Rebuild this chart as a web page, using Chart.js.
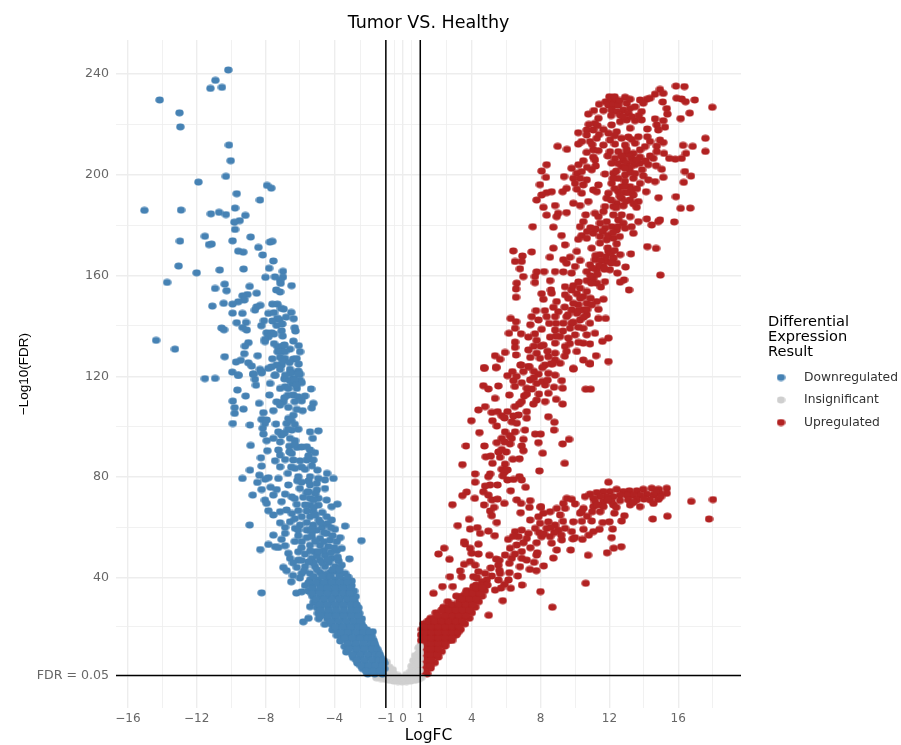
<!DOCTYPE html>
<html>
<head>
<meta charset="utf-8">
<style>
body { margin: 0; background: #fff; }
canvas { display: block; }
</style>
<script src="https://cdn.jsdelivr.net/npm/chart.js@4"></script>
</head>
<body>
<canvas id="volcano" width="901" height="745"></canvas>
<script>
const seriesNames = ['Downregulated', 'Insignificant', 'Upregulated'];
const seriesColors = ['#4682b4', '#cfcfcf', '#b22222'];

const xMajor = [-16, -12, -8, -4, -1, 0, 1, 4, 8, 12, 16];
const xMinor = [-14, -10, -6, -2.5, -0.5, 0.5, 2.5, 6, 10, 14, 18];
const yMajor = [1.3, 40, 80, 120, 160, 200, 240];
const yMinor = [20.6, 60, 100, 140, 180, 220];

const logFcCutoff = 1;
const fdrCutoff = 1.3;

// [logFC, -log10(FDR)]
const downregulated = [
  [-10.16,241.6],[-10.91,237.5],[-11.2,234.3],[-10.53,234.7],[-14.15,229.7],[-13,224.6],[-12.95,219],[-10.12,211.8],[-10.02,205.6],[-10.3,199.4],
  [-11.9,197.1],[-7.91,195.8],[-7.66,194.7],[-9.67,192.5],[-8.32,190],[-9.77,186.8],[-15.04,185.9],[-12.91,186],[-11.17,184.5],[-10.7,185.1],
  [-10.3,184.2],[-9.17,183.9],[-9.5,181.8],[-9.81,181.2],[-9.77,178.3],[-8.86,175.3],[-11.52,175.6],[-9.91,173.8],[-12.97,173.7],[-7.74,173.3],
  [-7.6,173.6],[-11.13,172.5],[-11.28,172.3],[-8.41,171.2],[-9.58,169.7],[-9.29,169.3],[-8.16,168.2],[-7.54,165.8],[-13.05,163.8],[-7.79,162.9],
  [-9.27,162.6],[-10.66,162.2],[-12,161.1],[-6.98,161.7],[-13.72,157.3],[-8,159.3],[-7.45,159.5],[-6.98,159.4],[-7.15,158.2],[-7.12,156.9],
  [-10.37,156.6],[-10.93,154.9],[-8.92,155.7],[-6.48,156],[-10.26,154],[-7.37,154.3],[-7.15,153.5],[-8.51,153],[-9.05,152.5],[-9.33,152],
  [-9.23,150.3],[-9.58,149.6],[-9.91,148.7],[-10.43,149],[-11.09,147.9],[-8.3,148.2],[-8.51,147.6],[-8.61,146.3],[-7.6,148.7],[-7.31,148.7],
  [-6.94,146.7],[-6.5,145.4],[-9.91,145.1],[-9.34,145],[-7.83,145],[-7.5,145.3],[-6.36,142.9],[-7.19,142.6],[-8.09,142.1],[-9.67,141.3],
  [-9.13,141.4],[-8.24,140.1],[-7.35,140.2],[-7.02,140.8],[-9.33,139.4],[-9.09,138.4],[-10.55,139.2],[-10.41,138.5],[-6.3,139.3],[-6.26,138],
  [-7.06,138.1],[-7.93,137.3],[-7.64,137.3],[-7.5,136.8],[-7.83,135.7],[-8.03,134.7],[-8.03,133.8],[-14.36,134.3],[-6.38,134],[-8.99,133.4],
  [-9.19,132],[-13.26,130.8],[-6.07,132.2],[-7.29,131.8],[-7,132],[-6.57,130.8],[-5.99,129.8],[-7.29,129.8],[-7.1,129.8],[-6.86,129.8],
  [-9.23,129],[-8.45,128.2],[-10.37,127.8],[-7.15,127.5],[-6.86,127.1],[-6.38,126.9],[-6.19,127.1],[-9.44,126.4],[-9.71,125.7],[-9,125.4],
  [-8.8,124.1],[-6.07,124.9],[-7.06,124.5],[-7.35,124.5],[-7.64,123.8],[-7.83,123.2],[-8.32,122.8],[-8.22,121.9],[-7.15,122.8],[-6.57,122.8],
  [-6.09,122.1],[-6.48,121.5],[-5.99,120.9],[-9.93,121.7],[-9.58,120.4],[-8.72,120.9],[-7.45,120.4],[-8.61,118.8],[-6.38,119.2],[-5.99,118.5],
  [-10.93,119.2],[-11.52,119.1],[-8.7,120.9],[-8.22,121.4],[-7.44,120.5],[-6.57,121.4],[-6.09,120.9],[-7.15,115.2],[-6.86,115.9],[-6.47,117.2],
  [-5.89,117.5],[-5.35,115],[-6.67,115.2],[-6.18,115.2],[-6.38,112.6],[-6.09,111.9],[-5.7,112.2],[-5.89,110.3],[-7.35,109.9],[-6.96,109.9],
  [-7.15,108.6],[-6.67,107.7],[-6.18,106.9],[-5.22,109.3],[-5.31,107.5],[-7.54,106.4],[-5.84,106.4],[-8.12,105.6],[-6.38,104.6],[-6.67,103.3],
  [-8.22,102.9],[-7.93,102.7],[-8.9,100.7],[-7.39,101.1],[-6.77,101.3],[-8.03,101.3],[-6.09,99],[-6.47,98.7],[-8.16,99.4],[-7.25,98],
  [-5.41,98],[-4.92,98.4],[-8.12,97.1],[-7.06,96.7],[-5.25,95.4],[-7.93,94.5],[-6.57,95.4],[-7.15,94],[-6.28,94.5],[-7.54,95.4],
  [-5.6,92.1],[-6.61,92.3],[-6.18,91.8],[-7.25,90.8],[-7.89,90.5],[-5.41,90.8],[-5.12,89.7],[-6.47,89.4],[-8.26,87.7],[-7.15,88.8],
  [-7.44,86.5],[-6.86,87],[-6.38,86.8],[-5.99,86.5],[-5.6,86.8],[-5.22,86.8],[-8.22,84.4],[-7.15,84.1],[-6.28,83.5],[-5.7,83.1],
  [-4.98,82.8],[-4.42,81.5],[-8.35,80.8],[-7.83,79.8],[-7.25,79.5],[-6.09,80.2],[-5.41,80.2],[-4.92,79.5],[-4.54,78.9],[-8.47,77.9],
  [-8.03,79.2],[-6.67,76.9],[-6.15,78.6],[-5.41,76.9],[-5.02,77.5],[-8.22,75.1],[-7.7,76],[-7.35,75.1],[-6,75.5],[-4.54,75.5],
  [-5.5,74.2],[-5.02,74.9],[-7.54,72.9],[-6.86,73.3],[-6.47,72.2],[-8.03,70.9],[-5.41,71.6],[-4.92,71.6],[-4.44,70.9],[-7.06,70.3],
  [-7.93,69.6],[-6.18,69.2],[-5.41,68.9],[-4.92,68.9],[-4.15,68.3],[-7.83,66.7],[-6.77,67],[-6.09,66.7],[-5.22,66.3],[-7.54,65],
  [-7.15,66.3],[-6.47,65.6],[-5.41,64.3],[-4.44,64.3],[-4.15,63],[-5.89,64.3],[-7.15,61.9],[-6.57,62.3],[-5.99,61],[-5.22,61],
  [-6.86,60.1],[-6.28,59.7],[-5.6,59],[-5.02,59],[-3.96,59.3],[-4.44,57.7],[-7.54,57],[-6.86,57.7],[-6.09,56.8],[-3.66,56],
  [-5.31,56.4],[-4.83,55.7],[-7.06,55.3],[-4.25,55],[-5.89,54.4],[-3.86,54.4],[-7.83,53.3],[-7.44,52.4],[-7.25,52.1],[-6.86,52.8],
  [-5.41,53],[-4.83,53],[-4.34,52.4],[-3.57,51.7],[-3.86,50.8],[-6.09,50.4],[-5.12,50.4],[-6.67,49.8],[-5.7,49.5],[-4.54,49.1],
  [-6.57,47.8],[-6.09,47.1],[-5.31,47.8],[-4.83,47.1],[-4.15,47.8],[-3.76,46.8],[-6.96,44.2],[-6.18,44.2],[-5.7,44.5],[-5.12,44.5],
  [-4.54,44.5],[-3.96,44.5],[-3.57,45.1],[-6.77,42.9],[-5.89,41.8],[-5.41,41.8],[-4.83,42.1],[-4.25,42.1],[-3.66,41.8],[-3.37,41.8],
  [-2.99,38.8],[-6.5,38.5],[-5.41,39.2],[-4.92,39.2],[-4.44,39.2],[-3.96,39.2],[-3.47,39.2],[-2.42,54.8],[-3.12,47.6],[-3.37,60.6],
  [-4.05,79.5],[-3.82,69.3],[-8.92,61],[-8.3,51.3],[-9.34,79.5],[-8.9,82.8],[-8.74,72.9],[-8.86,92.6],[-9.9,101.3],[-9.28,107],
  [-9.63,114.6],[-9.15,112.2],[-8.37,109.3],[-7.77,112.6],[-7.73,117.2],[-8.55,116.5],[-9.9,110.2],[-9.79,107.6],[-9.79,105.3],[-9.58,120.5],
  [-8.22,34.1],[-6.2,34],[-5.9,34.5],[-5.8,22.6],[-5.5,24],[-5.4,28.6],
  [-5.2,46],[-4.7,46],[-4.3,46.2],[-3.9,42.5],[-5,48.8],[-4.6,51],[-4.2,50],[-5.1,54.6],[-4.6,54.4],[-4.1,56.8],
  [-5.3,58],[-4.7,60.2],[-4.4,61.5],[-4.9,63],[-4.7,66],[-5.6,66.6],[-5.7,69],[-5.2,71],
  [-6.9,119],[-6.6,118.5],[-6.3,118.5],[-6.2,116.5],[-6.7,112.5],[-6.3,110],[-6.9,111.5],[-6.5,102.5],[-6.3,101],[-6.9,97.5],
  [-6.7,99],[-6.3,93],[-6.6,90],[-5.9,92],[-5.5,88.5],[-5.3,84.5],[-5.9,84],[-6.5,84],[-6.7,81.5],[-5.9,78],
  [-5.5,78.5],[-5.6,74],[-6.3,71.5],[-5.8,72],[-5.1,73.5],[-5.2,68],[-5.6,62],[-6.3,63.5],[-4.8,62],[-5.1,65],
  [-6.1,59],[-6.3,54.5],[-5.6,56],[-5.4,50.8],[-5.9,52],[-5.3,59.5],[-4.6,58],[-4.2,60],[-3.8,48.3],[-4.9,50.5],
  [-4.4,47.3],[-4,52],[-6.4,46],[-5.5,46.4],[-5.9,47],[-6.4,41],[-6,40],[-5.75,42.8],[-5,43.3],[-4.5,41.5],
  [-4.1,43.3],[-3.7,43.5],[-3.2,40.4],[-5.2,40.5],[-4.7,40.7],[-4.2,40.6],[-3.7,40.5],[-7,126],[-6.6,125.5],[-6.9,132.5],
  [-7.6,127],[-7.5,133],[-7,136],[-7.3,143],[-6.8,143.5],[-7.6,142],[-7.1,147],[-6.85,120.5],
  [-5.7,37],[-5.25,36.8],[-4.8,37],[-4.35,36.8],[-3.9,37],[-3.45,36.8],[-3,37],
  [-5.5,34.8],[-5.05,34.8],[-4.6,34.8],[-4.15,34.8],[-3.7,34.8],[-3.25,34.8],[-2.85,34.8],
  [-5.25,32.6],[-4.8,32.6],[-4.35,32.6],[-3.9,32.6],[-3.45,32.6],[-3,32.6],[-2.75,32.6],
  [-5.2,30.4],[-5.05,30.4],[-4.6,30.4],[-4.15,30.4],[-3.7,30.4],[-3.25,30.4],[-2.8,30.4],
  [-5,28.2],[-4.8,28.2],[-4.35,28.2],[-3.9,28.2],[-3.45,28.2],[-3,28.2],[-2.6,28.2],
  [-4.95,26],[-4.6,26],[-4.15,26],[-3.7,26],[-3.25,26],[-2.8,26],[-2.55,26],
  [-4.9,23.8],[-4.4,23.8],[-3.95,23.8],[-3.5,23.8],[-3.05,23.8],[-2.6,23.8],[-2.4,23.8],
  [-4.55,21.6],[-4.15,21.6],[-3.7,21.6],[-3.25,21.6],[-2.8,21.6],[-2.4,21.6],
  [-4.1,19.4],[-3.85,19.4],[-3.4,19.4],[-2.95,19.4],[-2.5,19.4],[-2.1,19.4],[-1.77,18.7],
  [-3.85,17.2],[-3.55,17.2],[-3.1,17.2],[-2.65,17.2],[-2.2,17.2],[-1.85,17.2],
  [-3.65,15],[-3.25,15],[-2.8,15],[-2.35,15],[-1.9,15],[-1.7,15],
  [-3.4,12.8],[-2.95,12.8],[-2.5,12.8],[-2.05,12.8],[-1.6,12.8],
  [-3.3,10.6],[-2.75,10.6],[-2.3,10.6],[-1.85,10.6],[-1.45,10.6],
  [-2.9,8.4],[-2.45,8.4],[-2,8.4],[-1.55,8.4],[-1.3,8.4],
  [-2.65,6.2],[-2.2,6.2],[-1.75,6.2],[-1.3,6.2],[-1.1,6.2],
  [-2.35,4],[-1.95,4],[-1.5,4],[-1.1,4],
  [-2.05,1.9],[-1.65,1.9],[-1.2,1.9],
  [-5.5,38.1],[-5.05,38.1],[-4.6,38.1],[-4.15,38.1],[-3.7,38.1],[-3.25,38.1],
  [-5.3,35.9],[-4.8,35.9],[-4.4,35.9],[-3.95,35.9],[-3.5,35.9],[-3.05,35.9],
  [-5.3,33.7],[-4.85,33.7],[-4.4,33.7],[-3.95,33.7],[-3.5,33.7],[-3.1,33.7],
  [-5.05,31.5],[-4.6,31.5],[-4.15,31.5],[-3.7,31.5],[-3.25,31.5],[-2.9,31.5],
  [-4.85,29.3],[-4.4,29.3],[-3.95,29.3],[-3.5,29.3],[-3.05,29.3],[-2.7,29.3],
  [-4.8,27.1],[-4.35,27.1],[-3.9,27.1],[-3.45,27.1],[-3,27.1],[-2.65,27.1],
  [-4.8,24.9],[-4.35,24.9],[-3.9,24.9],[-3.45,24.9],[-3,24.9],[-2.6,24.9],
  [-4.2,22.7],[-3.75,22.7],[-3.3,22.7],[-2.85,22.7],[-2.5,22.7],
  [-3.95,20.5],[-3.5,20.5],[-3.05,20.5],[-2.6,20.5],[-2.3,20.5],
  [-3.6,18.3],[-3.2,18.3],[-2.75,18.3],[-2.3,18.3],[-1.95,18.3],
  [-3.4,16.1],[-2.95,16.1],[-2.5,16.1],[-2.05,16.1],[-1.8,16.1],
  [-3.2,13.9],[-2.75,13.9],[-2.3,13.9],[-1.85,13.9],[-1.65,13.9],
  [-3.15,11.7],[-2.7,11.7],[-2.25,11.7],[-1.8,11.7],[-1.5,11.7],
  [-2.95,9.5],[-2.5,9.5],[-2.05,9.5],[-1.6,9.5],[-1.35,9.5],
  [-2.7,7.3],[-2.25,7.3],[-1.8,7.3],[-1.4,7.3],[-1.15,7.3],
  [-2.45,5.1],[-2.0,5.1],[-1.6,5.1],[-1.2,5.1],
  [-2.15,3],[-1.75,3],[-1.35,3]
];

const insignificant = [
  [-1.55,0.4],[-1.3,0.1],[-1.05,-0.2],[-0.8,-0.6],[-0.55,-0.9],[-0.3,-1.1],[-0.05,-1.2],[0.2,-1.1],[0.45,-0.9],[0.7,-0.6],[0.9,-0.2],[1.05,0.4],
  [-1.15,1.6],[-0.9,1.2],[-0.65,0.7],[-0.4,0.4],[-0.15,0.4],[0.1,0.5],[0.35,0.8],[0.6,0.9],[0.85,1],
  [-1.05,3.5],[-0.8,2.9],[-0.55,2],[-0.3,1.3],[0.2,1.7],[0.45,3],[0.7,3.2],[0.95,3.3],
  [-1,5.5],[-0.8,4.6],[-0.6,3.6],[0.5,5],[0.75,5.5],[0.95,5.7],
  [-0.95,6.6],[0.6,7.2],[0.8,7.8],[0.98,8],[0.7,9.2],[0.88,10],[0.98,10.3],[0.92,12.2],[0.98,12.8]
];

const upregulated = [
  [15.87,235.2],[16.36,235],[14.94,233.9],[14.65,232],[15.13,232.3],[15.91,230.4],[16.2,230.1],[16.43,229],[16.96,229.7],[17.98,226.8],
  [15.1,228.9],[15.33,226.3],[15.37,224.1],[16.67,224.5],[16.14,222.3],[14.65,222.2],[15.13,221.5],[14.75,219.8],[15.23,218.9],[14.2,218.2],
  [14.84,217.8],[17.58,214.5],[17.58,209.3],[16.84,211.3],[16.28,211.7],[16.45,208.5],[16.2,206.5],[15.83,206.2],[15.48,206.5],[14.94,213.8],
  [15.13,212.8],[14.75,211.4],[15.17,208.5],[14.75,209.2],[14.55,206.5],[14.2,215.1],[14.36,213.2],[16.39,201.3],[16.74,199.5],[16.32,197],
  [15.04,202.2],[15.13,199],[14.65,197.3],[14.71,203.6],[15.87,191.3],[14.86,190.9],[16.14,186.7],[16.7,186.8],[15.77,181.3],[14.94,182.1],
  [14.84,181.4],[14.17,182.5],[14.46,180.1],[13.68,181.4],[14.13,193.3],[14.2,171.5],[14.71,170.8],[13.25,168.6],[14.96,160.2],[12.94,163.4],
  [13.14,154.3],
  [11.78,229],[12.13,229.4],[12.42,229.4],[11.94,227.7],[12.23,227.7],[12.52,227.7],[11.65,225.5],[12.13,225.7],[12.42,225.1],[12.91,230.8],
  [13,228.4],[12.81,225.7],[13.2,226.4],[13.49,227],[12.62,223.7],[13.1,224.4],[13.87,225.1],[13.78,229.7],[14.17,230],[13.97,228.4],
  [14.36,230.4],[10.77,224.1],[11.1,225.5],[11.36,222.4],[11.16,220.4],[12.13,219.8],[12.62,221.1],[13,221.8],[13.49,221.5],[13.87,221.8],
  [10.19,216.7],[10.68,217.8],[11.06,217.8],[11.65,218],[11.94,216.5],[12.42,217.1],[13.2,218.5],[13.68,215.1],[10.68,215.8],[11.26,214.5],
  [10.87,213.2],[10.39,213.2],[10.19,212.2],[11.65,211.8],[12.03,213.8],[12.32,212.2],[12.91,211.8],[13.49,212.5],[13.78,209.9],[14.07,211.2],
  [11.06,209.9],[11.36,209.6],[10.68,208.9],[8.99,211.3],[9.53,210.1],[12.03,209.2],[12.52,209.2],[13,208.5],[13.39,208.5],[13.78,207],
  [14.36,207.5],[11.06,207],[10.48,205.6],[11.16,205.9],[12.32,206.5],[12.13,204.6],[12.81,205.9],[13.29,206.5],[13.78,204.6],[14.26,204],
  [12.71,203.3],[13,204.6],[13.49,204],
  [8.35,204],[8.06,201.5],[8.31,199],[7.96,196.1],[9.8,202.6],[9.36,199.3],[10.97,202],[10.1,200.6],[10.39,201.3],[9.9,198.6],
  [10.29,198.6],[10.68,198],[10,196.6],[10.48,196],[11.36,196],[9.51,194.6],[9.28,193.3],[10.1,194.3],[11.06,194],[11.26,193.3],
  [10.39,192.7],[8.64,193.3],[8.35,192.9],[8.06,192],[7.77,190],[8.84,187.8],[8.16,187.1],[9.9,188.7],[10.29,187.8],[10.77,189.4],
  [11.74,200.3],[12.23,200.6],[12.52,198.6],[12.91,199.9],[13.39,198.6],[13.97,199.6],[14.26,198],[13.78,196.6],[12.13,196.6],[12.71,195.3],
  [13.2,195.3],[12.52,193.3],[11.94,192.7],[12.91,193],[13.39,192],[11.84,190.7],[12.71,190.7],[13.2,190],[13.68,189.4],[12.42,188.7],
  [12.23,187.4],[12.81,187.7],[11.74,187.4],[13.58,187.1],
  [9.02,184.7],[9.51,185],[8.35,184],[8.93,183.4],[7.54,179.4],[8.74,179.2],[10.62,184.1],[11.16,184.7],[10.48,181.4],[10.29,179.4],
  [11.36,183.4],[11.65,185.4],[12.23,184.1],[12.71,184.1],[13.2,183.4],[12.52,182.1],[11.84,181.4],[11.45,180.8],[12.13,179.4],[12.81,180.8],
  [13.29,179.4],[11.74,178.8],[12.42,178.1],[12.91,178.8],[13.39,176.8],[9.22,175.9],[10.39,175.9],[11.06,176.8],[11.45,175.5],[10.19,174.4],
  [11.84,174.2],[12.23,174.8],
  [10.68,174.8],[9.42,172.2],[10.97,170.9],[11.45,172.9],[12.42,172.6],[8.74,170.9],[6.41,169.8],[7.48,169.4],[6.94,167.8],[8.54,167.3],
  [10.1,169.6],[11.94,169.6],[12.62,168.3],[11.45,168.3],[12.23,167],[11.16,166.3],[9.32,166.3],[9.71,167.3],[10.29,166],[11.84,165.6],
  [6.51,165.6],[6.9,165.6],[10.87,164.3],[12.42,164.9],[6.8,162.7],[11.65,163.6],[9.51,164.9],[10,163.6],[11.26,162.3],[12.03,162.3],
  [8.84,161.6],[9.32,161.5],[8.2,161.6],[7.77,161.5],[9.8,161],[10.68,161.6],[12.46,161],[6.99,159.6],[7.67,159.6],
  [11.06,159],[11.74,157.6],[10.68,158],[8.55,158],[6.61,157],[7.67,157.2],[12.85,158.3],[12.62,157.4],[11.26,157],[9.42,155.6],
  [10.29,155],[9.8,154.3],[10.68,153.7],[6.57,154.7],[8.6,154.3],[10.1,152.8],[10.48,151.7],[8.06,152.8],[8.64,153],[9.61,151],
  [9.42,152.4],[6.57,151.4],[11.65,150.6],[11.26,149.7],[8.16,150.6],[8.93,149.7],[10.68,149],[10.19,148.4],[10.97,148.4],[8.74,147.4],
  [11.36,146.6],[10.48,146.4],[9.8,146.4],
  [7.73,146.1],[8.25,146.1],[9.03,145.7],[10.1,145],[10.68,144.4],[7.48,143.7],[8.35,143.7],[8.84,143.7],[9.51,143.7],[6.26,143],
  [6.57,141.7],[7.87,142.4],[10.29,142.4],[11.36,143],[11.78,143],[9.32,141.1],[9.8,141.1],[10.87,141.1],[6.51,139.1],[8.06,138.7],
  [8.84,138.4],[9.71,139.1],[10.48,139.1],[6.16,137.1],[6.86,136.9],[7.67,136.9],[10,136.5],[10.68,136.5],[11.16,137.1],[7.29,135.6],
  [8.55,135.6],[9.13,135.8],[9.61,135.2],[11.94,135.2],[11.59,133.9],[6.51,133.6],[7.77,134.3],[8.84,133.2],[10.48,133.2],[10.87,132.9],
  [6.51,131.5],[7.29,130.5],[8.16,132.4],[9.42,131.9],[10.1,129.9],[5.93,129.5],[5.35,128.2],[5.64,126.8],[6.57,128.5],[7.77,129.2],
  [8.84,129.2],[9.51,129.9],[11.22,128.2],[7.96,127.2],[8.45,127.8],[10.48,126.5],[10.87,125.2],[11.94,125.9],[9.13,125.2],[8.25,124.5],
  [6.86,124.5],[7.29,123.9],[4.71,123.5],[5.41,123.5],[9.9,123.2],[8.84,126.5],
  [4.73,123.2],[5.41,123.6],[6.84,124.5],[7.33,123.9],[6.07,120.3],[6.36,121.9],[7,121.9],[7.87,120.9],[8.45,121.2],[8.84,120.5],
  [9.9,122.9],[10.87,124.9],[6.42,118.3],[7.39,118.6],[7.77,117.2],[9.23,118.3],[4.67,116.3],[5.54,116.2],[4.96,115],[7.19,115.3],
  [8.26,116.6],[8.78,115.7],[9.28,115.3],[10.62,114.9],[10.91,114.9],[6.18,112.6],[7.04,112.2],[8.45,113.3],[5.35,111.3],[7.77,110.6],
  [8.26,110],[8.9,110.9],[6.9,110],[6.75,109],[7.58,109],[9.28,109],[4.77,108],[4.38,106.7],[5.16,105.7],[6.07,106],
  [5.74,104.4],[6.71,104.7],[7.19,106],[7.19,103.4],[6.42,104.3],[8.45,104],[3.97,102.4],[5.2,102.4],[6.32,102],[8.8,101.8],
  [6.61,101.4],[5.45,100.3],[4.44,97.7],[5.93,98],[6.51,98],[7.09,98.7],[7.68,97.1],[8,97.1],[8.78,98.7],[9.65,95],
  [9.28,93.2],[6.32,95.4],[5.74,95.4],[5.45,93.7],[7,95],[7.87,93.7],[3.66,92.4],[4.73,92.4],[6.22,93.2],[5.74,91],
  [6.9,92.4],[7,90.5],[8.12,89.5],[4.81,88.1],[5.1,88.4],[5.64,87.9],[6.38,87.1],[6.77,87.3],[5.2,85.5],[5.93,85.2],
  [9.4,85.5],[3.45,85],[5.74,83.1],[6.07,82.9],[7.93,82.5],[4.19,81.3],[5.06,81.3],[4.96,80.2],[4.19,78],[6.07,78.9],
  [6.42,79.1],[6.77,80.2],[6.9,78.9],[5.06,76.9],[4.77,76.5],[5.49,76.9],[7.13,76],[3.7,74.1],[6.26,74.6],[4.67,74.2],
  [3.45,72.7],[4.96,72.9],[4.17,71.6],[5.16,71],[5.49,71.3],[6.61,71],[7.39,70.7],[2.87,69.1],[4.71,69],[5.89,69.6],
  [6.86,69.6],[7.35,68],[5.29,68],[5.06,66.6],[6.84,65.9],[8.02,68],[5.16,64.7],[3.84,63.3],[5.45,62],[3.18,60.8],
  [3.9,59.4],[4.32,60],[4.48,57.7],[4.96,58.6],[5.33,56.8],[3.55,54.4],[4.38,53.4],[2.39,51.8],[2.06,49.5],[3.9,51.8],
  [3.6,53.5],[3.99,49.8],[4.38,49.5],[5.02,49],[2.7,47.4],[5.41,47.5],[3.9,46.5],[3.55,45.4],[4.19,45.1],[5.54,45.1],
  [3.32,42.8],[4.38,42.5],[2.73,40.5],[3.41,40.5],[4.09,40.5],[4.77,41.8],[5.16,40.8],[5.64,41.8],[6.18,42.1],[6.67,40.8],
  [4.87,39.2],[5.54,39.2],[6.13,39.2],[2.29,36.6],[2.89,36.6],[4.09,36.6],[4.77,37.2],[5.35,35.2],[6.26,35.9],[6.92,37.2],
  [4.38,34.6],[1.77,33.9],[7.99,34.6],[10.62,37.9],[8.68,28.4],[5.8,31],[4.98,25.2],
  [11.94,78],[15.33,75.6],[14.85,75.2],[14.46,75.6],[13.97,75.2],[13.59,74.6],[13.16,74.6],[12.81,74.3],[12.42,75.2],[12.04,74.3],
  [11.65,74.3],[11.26,73.9],[10.87,73.3],[10.58,72.3],[15.33,73.6],[14.94,73.6],[14.56,72.9],[14.17,73.3],[13.78,72.9],[13.39,72.9],
  [13.01,72.9],[12.62,72.9],[12.23,72.3],[11.84,72.3],[11.46,72.3],[11.07,71.6],[14.85,71.2],[14.36,71],[13.59,71],[13.1,71],
  [12.62,70.7],[12.13,70.3],[11.65,70.3],[11.16,70.3],[14.56,69.6],[13.2,69],[13.78,68.3],[12.23,69],[11.65,68.3],[11.07,68.3],
  [10.49,67.6],[9.52,71.6],[9.81,71.2],[9.32,69.6],[10,69.4],[8.94,67.6],[8.55,66.3],[8.16,65.7],[7.87,64.3],[9.13,65],
  [9.42,67.6],[10.29,65.7],[11.46,66.3],[12.29,65.7],[12.87,64.7],[12.71,62.6],[14.52,63.4],[15.37,64.5],[16.76,70.4],[18.02,71.1],
  [17.79,63.4],[8.01,68.3],[7.39,63],[7.97,61.7],[8.45,62.3],[8.84,61],[9.42,59.7],[9.9,62.3],[10.39,66.3],[10.97,62.6],
  [11.61,62],[12,62.3],[8.35,59.7],[9.03,59],[9.81,58.4],[10.49,59.3],[11.07,58.4],[11.42,59.3],[12.19,59.4],[6.51,58.4],
  [6.9,59],[7.29,57.7],[7.68,59.7],[6.71,56.4],[7.19,55.7],[6.11,55.3],[7.77,54],[8.06,56.4],[8.55,56.4],[9.23,55.1],
  [9.87,55.5],[10.43,55.3],[12.13,56],[6.61,53.1],[6.22,51.8],[8.64,53.8],[8.94,51.1],[9.75,51.1],[12.69,52.4],[12.25,51.8],
  [11.86,50],[10.76,49],[5.93,49.1],[6.32,47.8],[6.9,47.8],[7.77,49.1],[8.74,47.9],[6.18,45.8],[7.19,47.1],[7.62,46.2],
  [8.18,44.8],[7.37,43.4],[7.75,42.9],
  [9.9,149],[10.2,146],[10.5,143.5],[9.6,144.5],[9.9,141.5],[10.2,139.5],[9.4,147.5],[10.7,146.5],[10.9,151],[10.3,151],
  [9.9,156],[10.2,157.5],[11.2,168],[11.5,166],[11.8,167.5],[12.1,165],[11.4,164],[11.7,162.5],[12.1,169],[11.9,171],
  [12.3,170],[11,163],[10.9,160],[11.3,160.5],[11.5,155.5],[10.95,157],[11.6,177.5],[11.9,176],[12.2,177],[12.6,175.5],
  [12.5,179.5],[11.2,178.5],[10.9,179],[10.7,177.5],[12.9,195.5],[13.1,193],[12.6,191.5],[12.95,189.5],[13.3,194],[12.4,187],
  [13.4,188.5],[12.1,190],[12.3,194.5],[13.6,194.5],[12.2,198.5],[12.9,197.5],[13.2,201],[13.5,200.5],[13.1,208],[13.4,205],
  [12.7,207.5],[13.2,203],[13,210],[13.6,206],[12.5,204.5],[12.9,202.5],[13.9,202],[14.1,205.5],[12,231],[12.3,231],
  [12.6,229.5],[12.1,223.5],[12.8,223],[13.3,223],[11.4,228],[13.7,223.5],[13.2,230],[11.4,216],[11,212],[11.3,219.5],
  [10.8,220],[12.7,214.5],[13.1,215],[12.3,215.5],[13.3,214],[11.9,207.5],[12.4,201.5],[11.2,203.5],[10.7,203],[10.2,204],
  [8,132],[8.4,130],[8.6,125],[9.4,128],[9.7,133],[7.4,127.5],[7.6,132],[8.9,136],[9.3,138],[8.5,141],
  [8.9,141],[7.4,140.5],[10.2,133.5],[7.6,122],[8.1,123.5],[7.6,119.5],[8.1,118],[8.4,118.5],[7.5,115],[7.2,113],
  [7.9,113],[8.7,125],[6.6,120],[6.5,116],[6.9,117.5],[5.9,94],[6,90],[5.9,103.5],[5.5,106],[6.5,108],
  [6.2,96.5],[5.55,90],[5.9,82],[5.8,80.5],[11.3,69],[11.9,71],[12.4,68],[13.4,70],[14,71.3],[14.7,74],
  [15,72.3],[11,66.3],[10.7,64.5],[10.4,62.5],[9.3,62.5],[9.2,57],[8.8,58],[7.9,58],[6.4,56.5],[7,54],
  [7.4,52],[6.9,50.5],[6.5,49.5],[5.6,47],[5.1,44],[4.3,40],[4.6,38.5],[5.9,37.5],[5.7,36],[8.2,57.5],
  [8.6,60],[10,56],[10.8,57],[7.8,50],[6.8,44.5],[5.6,43],
  [1.1,2],[1.4,2],
  [1.05,4.2],[1.3,4.2],[1.6,4.2],
  [1.05,6.4],[1.45,6.4],[1.85,6.4],
  [1.05,8.6],[1.25,8.6],[1.65,8.6],[2.05,8.6],
  [1.05,10.8],[1.45,10.8],[1.85,10.8],[2.25,10.8],
  [1.05,13],[1.25,13],[1.65,13],[2.05,13],[2.45,13],
  [1.05,15.2],[1.45,15.2],[1.85,15.2],[2.25,15.2],[2.65,15.2],[2.85,15.2],
  [1.05,17.4],[1.25,17.4],[1.65,17.4],[2.05,17.4],[2.45,17.4],[2.85,17.4],[3.1,17.4],
  [1.1,19.6],[1.45,19.6],[1.85,19.6],[2.25,19.6],[2.65,19.6],[3.05,19.6],[3.35,19.6],
  [1.2,21.8],[1.65,21.8],[2.05,21.8],[2.45,21.8],[2.85,21.8],[3.25,21.8],[3.6,21.8],
  [1.6,24],[1.85,24],[2.25,24],[2.65,24],[3.05,24],[3.45,24],[3.85,24],
  [1.9,26.2],[2.45,26.2],[2.85,26.2],[3.25,26.2],[3.65,26.2],[4,26.2],
  [2.35,28.4],[2.65,28.4],[3.05,28.4],[3.45,28.4],[3.85,28.4],[4.2,28.4],
  [2.6,30.6],[3.25,30.6],[3.65,30.6],[4.05,30.6],[4.4,30.6],
  [3.1,32.8],[3.45,32.8],[3.85,32.8],[4.25,32.8],[4.6,32.8],
  [3.7,35],[4.05,35],[4.45,35],[4.75,35],
  [4.25,37.2],[4.65,37.2],[4.9,37.2],
  [1.25,3.1],[1.2,5.3],[1.6,5.3],[1.25,7.5],[1.65,7.5],[1.25,9.7],[1.65,9.7],[2.0,9.7],
  [1.25,11.9],[1.65,11.9],[2.05,11.9],[1.25,14.1],[1.65,14.1],[2.05,14.1],[2.45,14.1],
  [1.25,16.3],[1.65,16.3],[2.05,16.3],[2.45,16.3],[2.85,16.3],[1.25,18.5],[1.65,18.5],[2.05,18.5],[2.45,18.5],[2.85,18.5],[3.2,18.5],
  [1.3,20.7],[1.65,20.7],[2.05,20.7],[2.45,20.7],[2.85,20.7],[3.25,20.7],[1.45,22.9],[1.85,22.9],[2.25,22.9],[2.65,22.9],[3.05,22.9],[3.45,22.9],
  [2.05,25.1],[2.45,25.1],[2.85,25.1],[3.25,25.1],[3.65,25.1],[2.25,27.3],[2.65,27.3],[3.05,27.3],[3.45,27.3],[3.85,27.3],
  [2.85,29.5],[3.25,29.5],[3.65,29.5],[4.05,29.5],[3.45,31.7],[3.85,31.7],[4.25,31.7],[3.65,33.9],[4.05,33.9],[4.45,33.9],[4.25,36.1],[4.6,36.1]
];

const fontName = '"DejaVu Sans", sans-serif';
const xRange = [-16.69, 19.65];
const yRange = [-11.6, 253.5];

// the points in the picture are slightly wider than tall
function dot(color) {
  const c = document.createElement('canvas');
  c.width = 9;
  c.height = 8;
  const g = c.getContext('2d');
  g.fillStyle = color;
  g.beginPath();
  g.ellipse(4.5, 4, 4.2, 3.4, 0, 0, Math.PI * 2);
  g.fill();
  return c;
}

function points(i, rows) {
  return {
    label: seriesNames[i],
    data: rows,
    pointStyle: dot(seriesColors[i]),
    pointRadius: 3,
    order: 1
  };
}

function refLine(rows) {
  return {
    data: rows,
    showLine: true,
    borderColor: '#000',
    borderWidth: 1.5,
    pointRadius: 0,
    order: 0
  };
}

function setTicks(major, minor) {
  return scale => {
    scale.ticks = major.concat(minor).map(v => ({ value: v }));
  };
}

function gridStyle(major) {
  return {
    drawTicks: false,
    color: '#ededed',
    lineWidth: ctx => major.includes(ctx.tick.value) ? 1.4 : 0.8
  };
}

// legend sits outside the panel with a three line title, so it is drawn here
const sideLegend = {
  id: 'sideLegend',
  afterDraw(chart) {
    const g = chart.ctx;
    g.save();
    g.textBaseline = 'middle';
    g.fillStyle = '#000';
    g.font = '14.6px ' + fontName;
    ['Differential', 'Expression', 'Result'].forEach((t, i) => g.fillText(t, 768, 322 + i * 15));
    g.font = '12.3px ' + fontName;
    seriesNames.forEach((name, i) => {
      const y = 377.5 + i * 22.5;
      g.drawImage(dot(seriesColors[i]), 776.5, y - 4);
      g.fillStyle = '#333';
      g.fillText(name, 804, y);
    });
    g.restore();
  }
};

new Chart(document.getElementById('volcano'), {
  type: 'scatter',
  plugins: [sideLegend],
  data: {
    datasets: [
      points(0, downregulated),
      points(1, insignificant),
      points(2, upregulated),
      refLine([[-logFcCutoff, yRange[0]], [-logFcCutoff, yRange[1]]]),
      refLine([[logFcCutoff, yRange[0]], [logFcCutoff, yRange[1]]]),
      refLine([[xRange[0], fdrCutoff], [xRange[1], fdrCutoff]])
    ]
  },
  options: {
    responsive: false,
    animation: false,
    layout: { padding: { right: 160 } },
    plugins: {
      legend: { display: false },
      tooltip: { enabled: false },
      title: {
        display: true,
        text: 'Tumor VS. Healthy',
        fullSize: false,
        color: '#000',
        font: { family: fontName, size: 17.5, weight: 'normal' },
        padding: { top: 12.6, bottom: 6.4 }
      }
    },
    scales: {
      x: {
        type: 'linear',
        min: xRange[0],
        max: xRange[1],
        afterBuildTicks: setTicks(xMajor, xMinor),
        afterFit(scale) { scale.height = 37; },
        grid: gridStyle(xMajor),
        border: { display: false },
        ticks: {
          autoSkip: false,
          maxRotation: 0,
          padding: 4,
          color: '#666',
          font: { family: fontName, size: 12 },
          callback: v => xMajor.includes(v) ? String(v).replace('-', '\u2212') : ''
        },
        title: {
          display: true,
          text: 'LogFC',
          color: '#000',
          font: { family: fontName, size: 15.5 },
          padding: { top: 0, bottom: 0 }
        }
      },
      y: {
        type: 'linear',
        min: yRange[0],
        max: yRange[1],
        afterBuildTicks: setTicks(yMajor, yMinor),
        afterFit(scale) { scale.width = 116; },
        grid: gridStyle(yMajor),
        border: { display: false },
        ticks: {
          autoSkip: false,
          padding: 7,
          color: '#666',
          font: { family: fontName, size: 12.6 },
          callback: v => v === fdrCutoff ? 'FDR = 0.05' : (yMajor.includes(v) ? String(v) : '')
        },
        title: {
          display: true,
          text: '\u2212Log10(FDR)',
          color: '#000',
          font: { family: '"Liberation Sans", sans-serif', size: 13.5 },
          padding: { top: 16, bottom: 0 }
        }
      }
    }
  }
});
</script>
</body>
</html>
